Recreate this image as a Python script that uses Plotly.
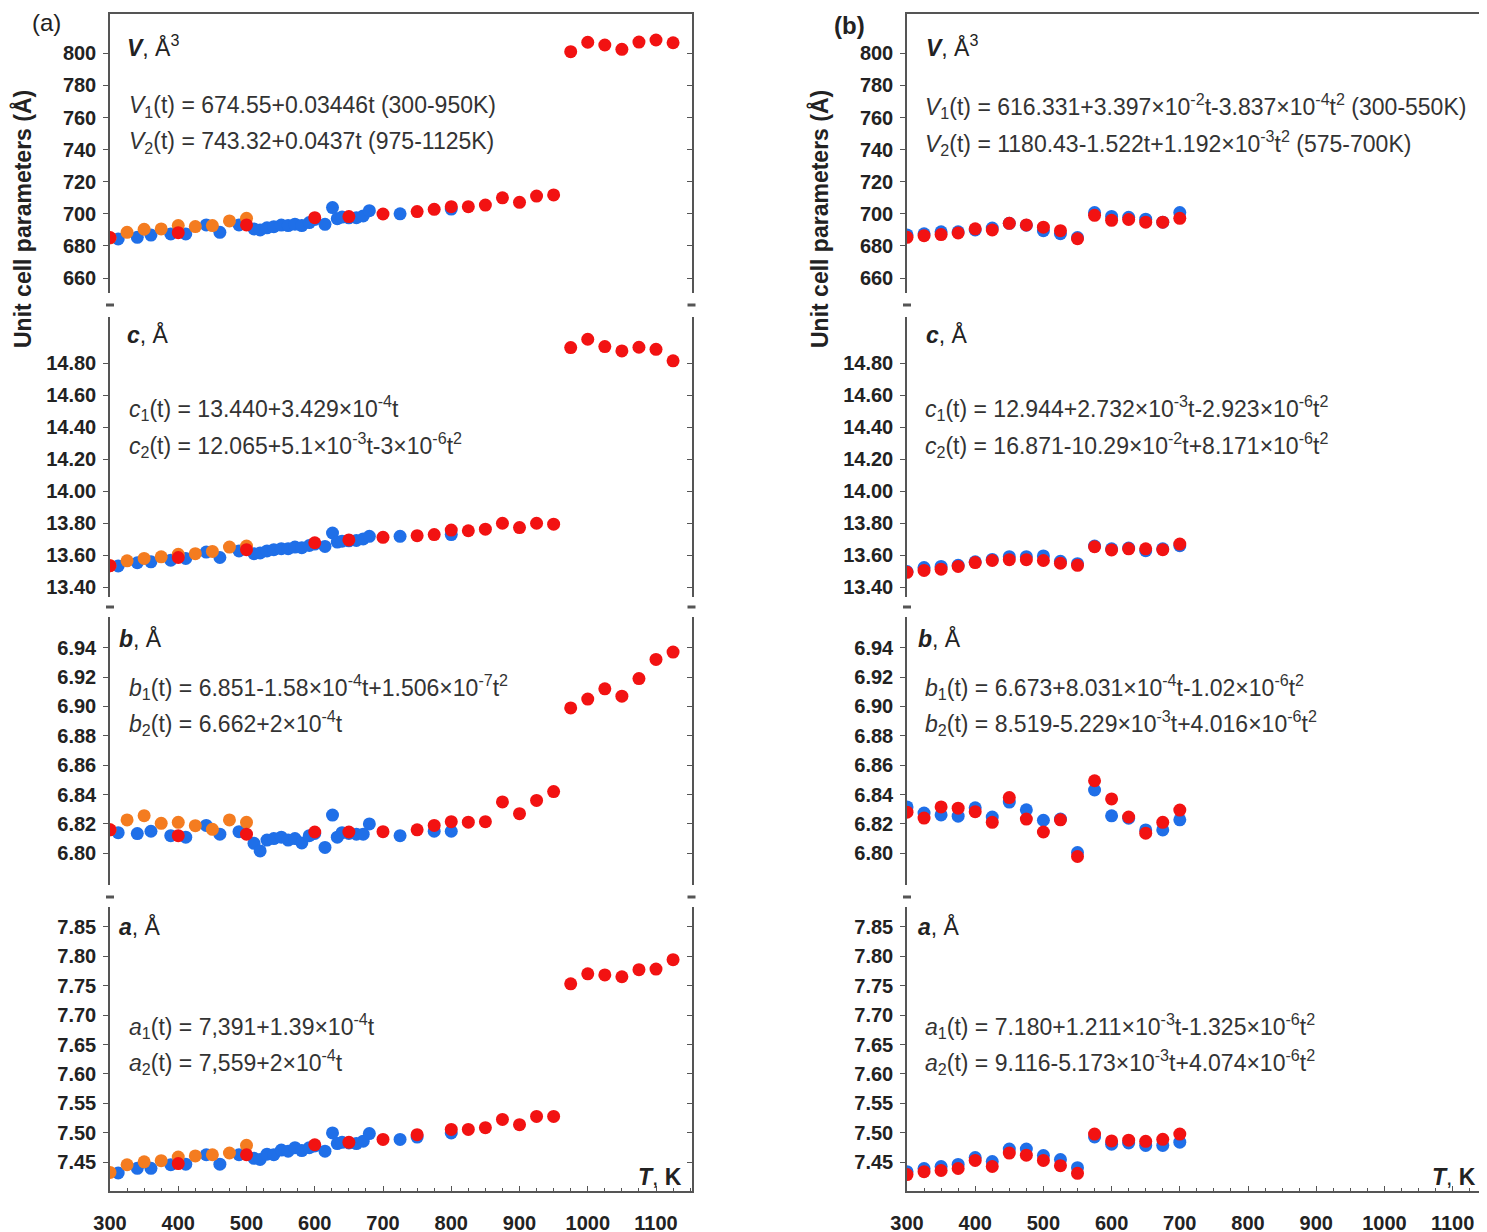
import plotly.graph_objects as go

# ---------------- data ----------------
# Panel (a): three series
orange_T = [300, 325, 350, 375, 400, 425, 450, 475, 500]
orange_V = [685.0, 688.5, 690.4, 690.6, 692.7, 692.1, 692.7, 695.6, 697.2]
orange_c = [13.535, 13.565, 13.580, 13.590, 13.606, 13.610, 13.624, 13.651, 13.657]
orange_b = [6.816, 6.8227, 6.8256, 6.8204, 6.8211, 6.8188, 6.8163, 6.8227, 6.8211]
orange_a = [7.433, 7.446, 7.451, 7.453, 7.459, 7.461, 7.463, 7.466, 7.479]

blue_T = [312, 340, 360, 389, 411, 441, 461, 489, 511, 520, 530, 540, 551, 561, 571,
          581, 592, 600, 615, 626, 633, 640, 650, 661, 671, 680, 725, 750, 775, 800]
blue_V = [684.4, 685.4, 686.8, 687.5, 687.5, 693.1, 688.5, 693.1, 690.6, 690.0, 691.3, 692.0,
          693.0, 692.7, 693.6, 692.7, 694.6, 696.5, 693.5, 703.9, 697.0, 698.0, 697.5, 697.6,
          698.7, 702.0, 700.0, None, None, 703.0]
blue_c = [13.533, 13.553, 13.559, 13.569, 13.580, 13.620, 13.586, 13.627, 13.610, 13.614,
          13.627, 13.635, 13.641, 13.641, 13.651, 13.647, 13.661, 13.670, 13.655, 13.739,
          13.682, 13.688, 13.690, 13.692, 13.702, 13.718, 13.718, None, None, 13.729]
blue_b = [6.814, 6.8134, 6.815, 6.812, 6.811, 6.819, 6.813, 6.8147, 6.8068, 6.8016, 6.809,
          6.810, 6.811, 6.809, 6.810, 6.807, 6.812, 6.8135, 6.804, 6.826, 6.811, 6.814,
          6.8135, 6.813, 6.813, 6.820, 6.812, None, 6.815, 6.815]
blue_a = [7.432, 7.440, 7.440, 7.446, 7.447, 7.463, 7.447, 7.463, 7.457, 7.455, 7.464, 7.463,
          7.471, 7.469, 7.475, 7.470, 7.475, 7.478, 7.469, 7.500, 7.482, 7.484, 7.483, 7.482,
          7.486, 7.499, 7.489, 7.493, None, 7.500]

red_T = [300, 400, 500, 600, 650, 700, 750, 775, 800, 825, 850, 875, 900, 925, 950,
         975, 1000, 1025, 1050, 1075, 1100, 1125]
red_V = [685.2, 688.3, 693.1, 697.6, 698.3, 699.9, 701.4, 702.8, 704.5, 704.5, 705.5, 710.0,
         707.2, 711.1, 711.8, 801.0, 806.9, 805.2, 802.5, 807.0, 808.3, 806.6]
red_c = [13.535, 13.586, 13.635, 13.678, 13.696, 13.712, 13.722, 13.729, 13.757, 13.753,
         13.763, 13.800, 13.773, 13.800, 13.794, 14.898, 14.950, 14.904, 14.877, 14.900,
         14.887, 14.815]
red_b = [6.816, 6.812, 6.813, 6.8145, 6.8145, 6.8147, 6.816, 6.819, 6.8215, 6.8212, 6.8215,
         6.835, 6.827, 6.836, 6.842, 6.899, 6.905, 6.912, 6.907, 6.919, 6.932, 6.937]
red_a = [None, 7.448, 7.463, 7.480, 7.484, 7.489, 7.497, None, 7.506, 7.506, 7.509, 7.523,
         7.514, 7.528, 7.528, 7.753, 7.770, 7.768, 7.765, 7.777, 7.778, 7.794]

# Panel (b): two series
rb_T = [300, 325, 350, 375, 400, 425, 450, 475, 500, 525, 550, 575, 600, 625, 650, 675, 700]
rb_blue_V = [686.9, 687.6, 688.8, 688.8, 690.0, 691.2, 694.1, 692.9, 689.5, 687.6, 685.2,
             700.8, 698.4, 697.9, 696.7, 694.8, 700.8]
rb_red_V = [685.4, 686.4, 687.1, 688.1, 690.7, 690.0, 694.1, 693.1, 691.7, 689.5, 684.5,
            699.1, 696.0, 696.5, 694.8, 694.8, 697.2]
rb_blue_c = [13.498, 13.523, 13.530, 13.537, 13.559, 13.574, 13.591, 13.591, 13.596, 13.562,
             13.547, 13.657, 13.640, 13.645, 13.628, 13.640, 13.660]
rb_red_c = [13.493, 13.505, 13.513, 13.530, 13.554, 13.567, 13.572, 13.572, 13.567, 13.550,
            13.537, 13.653, 13.633, 13.640, 13.640, 13.635, 13.670]
rb_blue_b = [6.8316, 6.8274, 6.8261, 6.8253, 6.8310, 6.8247, 6.8349, 6.8296, 6.8225, 6.8233,
             6.8005, 6.8431, 6.8255, 6.8239, 6.8159, 6.8159, 6.8228]
rb_red_b = [6.8280, 6.8240, 6.8316, 6.8307, 6.8283, 6.8211, 6.8379, 6.8233, 6.8145, 6.8228,
            6.7978, 6.8494, 6.8370, 6.8247, 6.8137, 6.8211, 6.8294]
rb_blue_a = [7.4342, 7.4397, 7.4431, 7.4466, 7.4582, 7.4514, 7.4726, 7.4726, 7.4617, 7.4548,
             7.4411, 7.4932, 7.4809, 7.4829, 7.4788, 7.4788, 7.4843]
rb_red_a = [7.4294, 7.4342, 7.4363, 7.4397, 7.4534, 7.4431, 7.4658, 7.4623, 7.4534, 7.4445,
            7.4315, 7.4980, 7.4864, 7.4877, 7.4857, 7.4891, 7.4980]

x_ticks = [300, 400, 500, 600, 700, 800, 900, 1000, 1100]
row_names = ["V", "c", "b", "a"]
y_ranges = {"V": [650.7, 824.5], "c": [13.339, 15.089], "b": [6.7784, 6.9609], "a": [7.4015, 7.8833]}
y_ticks = {
    "V": [660, 680, 700, 720, 740, 760, 780, 800],
    "c": [13.40, 13.60, 13.80, 14.00, 14.20, 14.40, 14.60, 14.80],
    "b": [6.80, 6.82, 6.84, 6.86, 6.88, 6.90, 6.92, 6.94],
    "a": [7.45, 7.50, 7.55, 7.60, 7.65, 7.70, 7.75, 7.80, 7.85],
}
y_fmt = {"V": "{:.0f}", "c": "{:.2f}", "b": "{:.2f}", "a": "{:.2f}"}

row_labels = {
    "V": "<b><i>V</i></b>, Å<sup>3</sup>",
    "c": "<b><i>c</i></b>, Å",
    "b": "<b><i>b</i></b>, Å",
    "a": "<b><i>a</i></b>, Å",
}
eq_left = {
    "V": ["<i>V</i><sub>1</sub>(t) = 674.55+0.03446t (300-950K)",
          "<i>V</i><sub>2</sub>(t) = 743.32+0.0437t (975-1125K)"],
    "c": ["<i>c</i><sub>1</sub>(t) = 13.440+3.429×10<sup>-4</sup>t",
          "<i>c</i><sub>2</sub>(t) = 12.065+5.1×10<sup>-3</sup>t-3×10<sup>-6</sup>t<sup>2</sup>"],
    "b": ["<i>b</i><sub>1</sub>(t) = 6.851-1.58×10<sup>-4</sup>t+1.506×10<sup>-7</sup>t<sup>2</sup>",
          "<i>b</i><sub>2</sub>(t) = 6.662+2×10<sup>-4</sup>t"],
    "a": ["<i>a</i><sub>1</sub>(t) = 7,391+1.39×10<sup>-4</sup>t",
          "<i>a</i><sub>2</sub>(t) = 7,559+2×10<sup>-4</sup>t"],
}
eq_right = {
    "V": ["<i>V</i><sub>1</sub>(t) = 616.331+3.397×10<sup>-2</sup>t-3.837×10<sup>-4</sup>t<sup>2</sup> (300-550K)",
          "<i>V</i><sub>2</sub>(t) = 1180.43-1.522t+1.192×10<sup>-3</sup>t<sup>2</sup> (575-700K)"],
    "c": ["<i>c</i><sub>1</sub>(t) = 12.944+2.732×10<sup>-3</sup>t-2.923×10<sup>-6</sup>t<sup>2</sup>",
          "<i>c</i><sub>2</sub>(t) = 16.871-10.29×10<sup>-2</sup>t+8.171×10<sup>-6</sup>t<sup>2</sup>"],
    "b": ["<i>b</i><sub>1</sub>(t) = 6.673+8.031×10<sup>-4</sup>t-1.02×10<sup>-6</sup>t<sup>2</sup>",
          "<i>b</i><sub>2</sub>(t) = 8.519-5.229×10<sup>-3</sup>t+4.016×10<sup>-6</sup>t<sup>2</sup>"],
    "a": ["<i>a</i><sub>1</sub>(t) = 7.180+1.211×10<sup>-3</sup>t-1.325×10<sup>-6</sup>t<sup>2</sup>",
          "<i>a</i><sub>2</sub>(t) = 9.116-5.173×10<sup>-3</sup>t+4.074×10<sup>-6</sup>t<sup>2</sup>"],
}

# ---------------- layout geometry (page pixels) ----------------
W, H = 1487, 1232
OFF = 8  # default body margin of the html page
col_px = [(110, 691.5), (907, 1486)]
x_ranges = [[300, 1152], [300, 300 + (1486 - 907) / 0.682]]
row_px = {"V": (14, 293), "c": (317, 597), "b": (617, 885), "a": (907, 1191)}
gaps_px = [305, 607, 897]

BLUE = "#1f6fe8"
ORANGE = "#f47c20"
RED = "#f21212"
AXC = "#555555"
FONT = "Liberation Sans"


def px_x(p):
    return (p - OFF) / W


def px_y(p):
    return 1 - (p - OFF) / H


fig = go.Figure()
layout = dict(width=W, height=H, margin=dict(l=0, r=0, t=0, b=0, pad=0), autosize=False,
              template="none", paper_bgcolor="white", plot_bgcolor="white", showlegend=False)

left_series = {
    "V": (orange_V, blue_V, red_V),
    "c": (orange_c, blue_c, red_c),
    "b": (orange_b, blue_b, red_b),
    "a": (orange_a, blue_a, red_a),
}
right_series = {
    "V": (rb_blue_V, rb_red_V),
    "c": (rb_blue_c, rb_red_c),
    "b": (rb_blue_b, rb_red_b),
    "a": (rb_blue_a, rb_red_a),
}

tickfont = dict(family=FONT, size=20, color="#222222", weight="bold")
annotations = []
shapes = []

k = 0
for ci in range(2):
    for r in row_names:
        k += 1
        xa, ya = f"x{k}", f"y{k}"
        ov = 8 + k
        xdom = [px_x(col_px[ci][0]), px_x(col_px[ci][1])]
        ydom = [px_y(row_px[r][1]), px_y(row_px[r][0])]
        mk = dict(size=13, line=dict(width=0))
        if ci == 0:
            o, b_, rr = left_series[r]
            fig.add_trace(go.Scatter(x=blue_T, y=b_, mode="markers", marker=dict(color=BLUE, **mk),
                                     xaxis=xa, yaxis=ya))
            fig.add_trace(go.Scatter(x=orange_T, y=o, mode="markers", marker=dict(color=ORANGE, **mk),
                                     xaxis=xa, yaxis=ya))
            fig.add_trace(go.Scatter(x=red_T, y=rr, mode="markers", marker=dict(color=RED, **mk),
                                     xaxis=xa, yaxis=ya))
        else:
            b_, rr = right_series[r]
            fig.add_trace(go.Scatter(x=rb_T, y=b_, mode="markers", marker=dict(color=BLUE, **mk),
                                     xaxis=xa, yaxis=ya))
            fig.add_trace(go.Scatter(x=rb_T, y=rr, mode="markers", marker=dict(color=RED, **mk),
                                     xaxis=xa, yaxis=ya))
        # invisible trace for overlay (right mirrored) axis
        fig.add_trace(go.Scatter(x=[None], y=[None], mode="markers", xaxis=xa, yaxis=f"y{ov}",
                                 hoverinfo="skip", showlegend=False))

        xaxis = dict(domain=xdom, range=x_ranges[ci], anchor=ya, showgrid=False, zeroline=False,
                     automargin=False)
        if r == "a":
            xaxis.update(showline=True, linecolor=AXC, linewidth=1.5, ticks="inside", ticklen=5,
                         tickcolor=AXC, tickwidth=1.2, tickvals=x_ticks,
                         ticktext=[str(v) for v in x_ticks], tickfont=tickfont,
                         ticklabelstandoff=13,
                         minor=dict(dtick=25, tick0=300, ticks="inside", ticklen=3,
                                    tickcolor=AXC, tickwidth=1))
        elif r == "V":
            xaxis.update(side="top", showline=True, linecolor=AXC, linewidth=1.5, ticks="",
                         showticklabels=False)
        else:
            xaxis.update(showline=False, ticks="", showticklabels=False)
        layout[f"xaxis{k}"] = xaxis

        yt = y_ticks[r]
        layout[f"yaxis{k}"] = dict(domain=ydom, range=y_ranges[r], anchor=xa, showgrid=False,
                                   zeroline=False, showline=True, linecolor=AXC, linewidth=1.5,
                                   ticks="outside", ticklen=5, tickcolor=AXC, tickwidth=1.2,
                                   tickvals=yt, ticktext=[y_fmt[r].format(v) for v in yt],
                                   tickfont=tickfont, ticklabelstandoff=3, automargin=False)
        layout[f"yaxis{ov}"] = dict(range=y_ranges[r], overlaying=ya, anchor=xa, side="right",
                                    showgrid=False, zeroline=False, showline=True, linecolor=AXC,
                                    linewidth=1.5, ticks="inside", ticklen=5, tickcolor=AXC,
                                    tickwidth=1.2, tickvals=yt, showticklabels=False,
                                    automargin=False)

        # row label and equations
        lab_x = {"V": 125, "c": 125, "b": 117, "a": 117}[r] + (0 if ci == 0 else 799)
        lab_y = {"V": 46, "c": 334, "b": 638, "a": 926}[r]
        annotations.append(dict(x=px_x(lab_x), y=px_y(lab_y), xref="paper", yref="paper",
                                text=row_labels[r], showarrow=False, xanchor="left",
                                yanchor="middle", font=dict(family=FONT, size=23, color="#222222")))
        eqs = eq_left[r] if ci == 0 else eq_right[r]
        eq_x = 127 if ci == 0 else 923
        eq_ys = {"V": (106, 143), "c": (408, 445), "b": (687, 723), "a": (1026, 1062)}[r]
        for txt, ey in zip(eqs, eq_ys):
            annotations.append(dict(x=px_x(eq_x), y=px_y(ey), xref="paper", yref="paper",
                                    text=txt, showarrow=False, xanchor="left", yanchor="middle",
                                    font=dict(family=FONT, size=23, color="#333333")))

    # column decorations
    annotations.append(dict(x=px_x(col_px[ci][0] - 87), y=px_y(219), xref="paper", yref="paper",
                            text="<b>Unit cell parameters (Å)</b>", textangle=-90,
                            showarrow=False, xanchor="center", yanchor="middle",
                            font=dict(family=FONT, size=23, color="#222222")))
    annotations.append(dict(x=px_x(col_px[ci][1] - 8), y=px_y(1177), xref="paper", yref="paper",
                            text="<b><i>T</i></b>, <b>K</b>", showarrow=False, xanchor="right",
                            yanchor="middle", font=dict(family=FONT, size=23, color="#222222")))
    for gy in gaps_px:
        for axx in col_px[ci]:
            shapes.append(dict(type="line", xref="paper", yref="paper",
                               x0=px_x(axx - 4), x1=px_x(axx + 4), y0=px_y(gy), y1=px_y(gy),
                               line=dict(color=AXC, width=3)))

annotations.append(dict(x=px_x(30), y=px_y(23), xref="paper", yref="paper", text="(a)",
                        showarrow=False, xanchor="left", yanchor="middle",
                        font=dict(family=FONT, size=24, color="#222222")))
annotations.append(dict(x=px_x(832), y=px_y(25), xref="paper", yref="paper", text="<b>(b)</b>",
                        showarrow=False, xanchor="left", yanchor="middle",
                        font=dict(family=FONT, size=24, color="#222222")))

layout["annotations"] = annotations
layout["shapes"] = shapes
fig.update_layout(**layout)
fig.write_html("out.html")
